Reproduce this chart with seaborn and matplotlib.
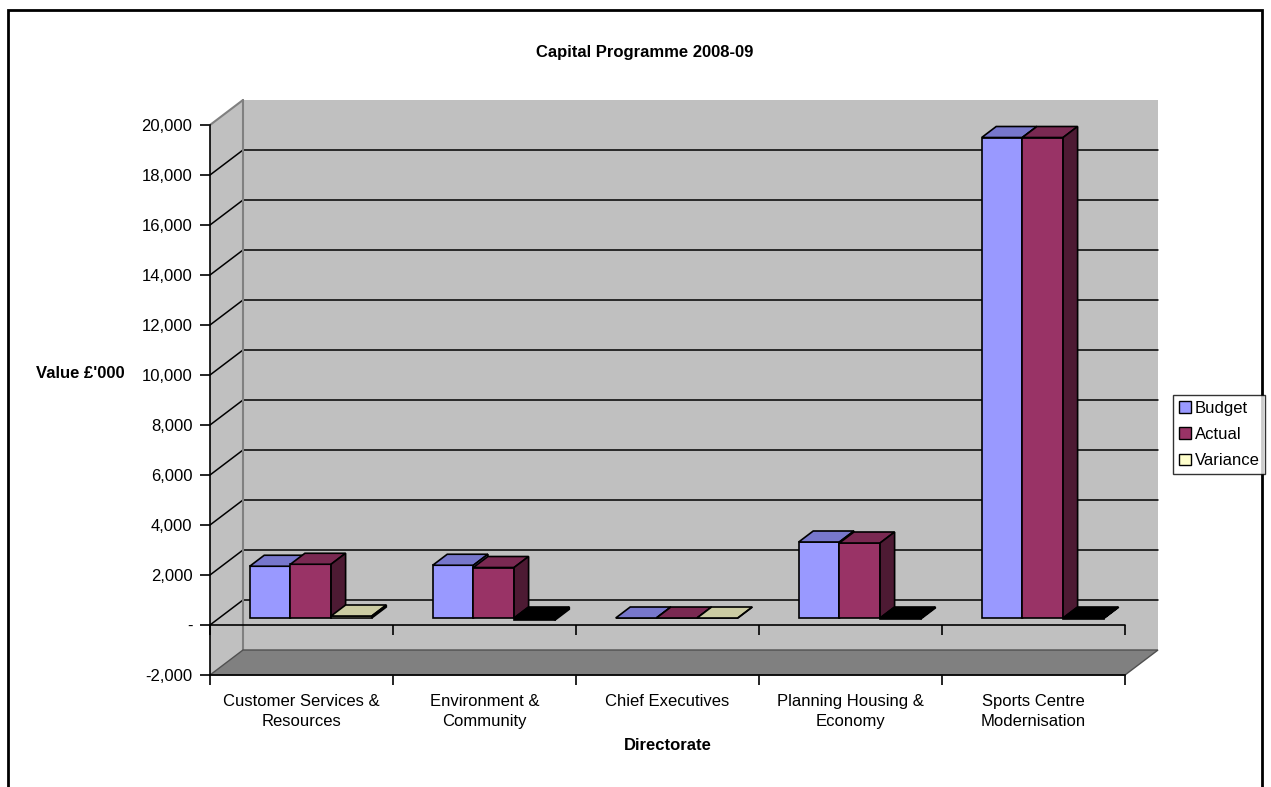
import numpy as np
import pandas as pd
import matplotlib
matplotlib.use("Agg")
import matplotlib.pyplot as plt
import seaborn as sns
from matplotlib.patches import Polygon, Rectangle, Patch
from matplotlib.transforms import IdentityTransform
from matplotlib.lines import Line2D

# ---------------- data ----------------
categories = ["Customer Services &\nResources", "Environment &\nCommunity",
              "Chief Executives", "Planning Housing &\nEconomy",
              "Sports Centre\nModernisation"]
series = ["Budget", "Actual", "Variance"]
budget = [2070, 2110, 0, 3040, 19220]
actual = [2150, 2020, 0, 3000, 19220]
variance = [80, -90, 0, -40, -20]
yticks = list(range(-2000, 20001, 2000))
ytick_labels = ["-" if v == 0 else f"{v:,}" for v in yticks]

front_colors = {"Budget": "#9999FF", "Actual": "#993366", "Variance": "#FFFFCC"}
top_colors = {"Budget": "#7777CC", "Actual": "#7A2952", "Variance": "#CCCCA3"}
side_colors = {"Budget": "#5C5C99", "Actual": "#4D1A33", "Variance": "#A3A37A"}

df = pd.DataFrame({
    "Directorate": categories * 3,
    "Series": [s for s in series for _ in categories],
    "Value": budget + actual + variance,
})

# ---------------- style ----------------
sns.set_style("white")
plt.rcParams["font.family"] = ["Liberation Sans", "DejaVu Sans"]
for key in ["text.color", "axes.labelcolor", "xtick.color", "ytick.color"]:
    plt.rcParams[key] = "black"
FS = 12

W, H = 1271, 787
fig = plt.figure(figsize=(W / 100, H / 100), dpi=100)
ax = fig.add_axes([210 / W, (H - 675) / H, 915 / W, 550 / H])

sns.barplot(data=df, x="Directorate", y="Value", hue="Series",
            order=categories, hue_order=series, palette=front_colors,
            width=0.667, saturation=1, errorbar=None, legend=False,
            edgecolor="black", linewidth=1.2, ax=ax)

ax.set_xlim(-0.5, 4.5)
ax.set_ylim(-2000, 20000)
ax.set_facecolor("none")
ax.set_xlabel("")
ax.set_ylabel("")
for s in ["top", "right"]:
    ax.spines[s].set_visible(False)
for s in ["left", "bottom"]:
    ax.spines[s].set_color("black")
    ax.spines[s].set_linewidth(1.2)
    ax.spines[s].set_zorder(2.5)

ax.set_yticks(yticks, ytick_labels)
ax.tick_params(axis="y", direction="out", length=7.2, width=1.2, pad=5.5,
               labelsize=FS, color="black", labelcolor="black", left=True)
ax.set_xticks(range(len(categories)), categories)
ax.set_xticks(np.arange(-0.5, len(categories), 1.0), minor=True)
ax.tick_params(axis="x", which="major", length=0, pad=13.5, labelsize=FS,
               labelcolor="black")
ax.tick_params(axis="x", which="minor", direction="out", length=7.2,
               width=1.2, color="black", bottom=True)
for t in ax.get_xticklabels():
    t.set_linespacing(1.45)
ax.grid(False)

DX, DY = 33.0, 25.0
D_FRONT, D_BACK = 0.28, 0.72


def P(x, v, d):
    X, Y = ax.transData.transform((x, v))
    return (X + d * DX, Y + d * DY)


def poly(pts, fc, ec="none", lw=0, z=0):
    p = Polygon(pts, closed=True, facecolor=fc, edgecolor=ec, linewidth=lw,
                transform=IdentityTransform(), clip_on=False, zorder=z)
    ax.add_artist(p)
    return p


def seg(p1, p2, color, lw, z):
    ln = Line2D([p1[0], p2[0]], [p1[1], p2[1]], color=color, linewidth=lw,
                transform=IdentityTransform(), clip_on=False, zorder=z)
    ax.add_artist(ln)


bars = sorted([p for p in ax.patches if isinstance(p, Rectangle)],
              key=lambda r: r.get_x())

x0, x1 = -0.5, 4.5
ymin, ymax = -2000, 20000
# walls
poly([P(x0, ymin, 1), P(x1, ymin, 1), P(x1, ymax, 1), P(x0, ymax, 1)], "#C0C0C0", z=0.1)
poly([P(x0, ymin, 0), P(x0, ymin, 1), P(x0, ymax, 1), P(x0, ymax, 0)], "#C0C0C0", z=0.1)
for v in yticks:
    if v in (ymin, ymax):
        continue
    seg(P(x0, v, 1), P(x1, v, 1), "black", 1.1, 0.5)
    seg(P(x0, v, 0), P(x0, v, 1), "black", 1.1, 0.5)
seg(P(x0, ymax, 0), P(x0, ymax, 1), "#808080", 1.5, 0.6)
seg(P(x0, ymax, 1), P(x0, ymin, 1), "#808080", 1.5, 0.6)
# floor
poly([P(x0, ymin, 0), P(x1, ymin, 0), P(x1, ymin, 1), P(x0, ymin, 1)], "#808080",
     ec="#505050", lw=1.0, z=0.7)

# zero line with tick marks on front plane
ax.axhline(0, color="black", linewidth=1.2, zorder=2.6, clip_on=False)
ax.vlines(np.arange(-0.5, len(categories), 1.0), -400, 0, color="black",
          linewidth=1.2, zorder=2.6, clip_on=False)

# 3D bars built from seaborn's bar rectangles
for k, r in enumerate(bars):
    xb, w = r.get_x(), r.get_width()
    h = r.get_height()
    fc = matplotlib.colors.to_hex(r.get_facecolor())
    s = [key for key, c in front_colors.items() if c.lower() == fc.lower()]
    s = s[0] if s else "Budget"
    bottom, top = min(0, h), max(0, h)
    neg = h < 0
    f_c = "black" if neg else front_colors[s]
    t_c = "black" if neg else top_colors[s]
    s_c = "black" if neg else side_colors[s]
    z = 3 + k * 0.01
    poly([P(xb, bottom, D_FRONT), P(xb + w, bottom, D_FRONT),
          P(xb + w, top, D_FRONT), P(xb, top, D_FRONT)], f_c, "black", 1.2, z)
    poly([P(xb, top, D_FRONT), P(xb + w, top, D_FRONT),
          P(xb + w, top, D_BACK), P(xb, top, D_BACK)], t_c, "black", 1.2, z)
    poly([P(xb + w, bottom, D_FRONT), P(xb + w, bottom, D_BACK),
          P(xb + w, top, D_BACK), P(xb + w, top, D_FRONT)], s_c, "black", 1.2, z)
    r.set_visible(False)

# texts
fig.text(645 / W, 1 - 52 / H, "Capital Programme 2008-09", ha="center",
         va="center", fontsize=FS, fontweight="bold")
fig.text(80 / W, 1 - 373 / H, "Value £'000", ha="center", va="center",
         fontsize=FS, fontweight="bold")
fig.text(668 / W, 1 - 745 / H, "Directorate", ha="center", va="center",
         fontsize=FS, fontweight="bold")

handles = [Patch(facecolor=front_colors[s], edgecolor="black", linewidth=1.0)
           for s in series]
leg = fig.legend(handles, series, loc="upper left",
                 bbox_to_anchor=(1173 / W, 1 - 395 / H), frameon=True,
                 fancybox=False, edgecolor="black", fontsize=FS,
                 handlelength=0.7, handleheight=0.7, handletextpad=0.25,
                 labelspacing=0.68, borderpad=0.35, borderaxespad=0)
leg.get_frame().set_linewidth(1.0)
for t in leg.get_texts():
    t.set_color("black")

# outer chart border
fig.patches.append(Rectangle((8 / W, -0.05), (1262 - 8) / W, 1.05 - 10 / H,
                             transform=fig.transFigure, fill=False,
                             edgecolor="black", linewidth=2))

fig.savefig("out.png", dpi=100)
